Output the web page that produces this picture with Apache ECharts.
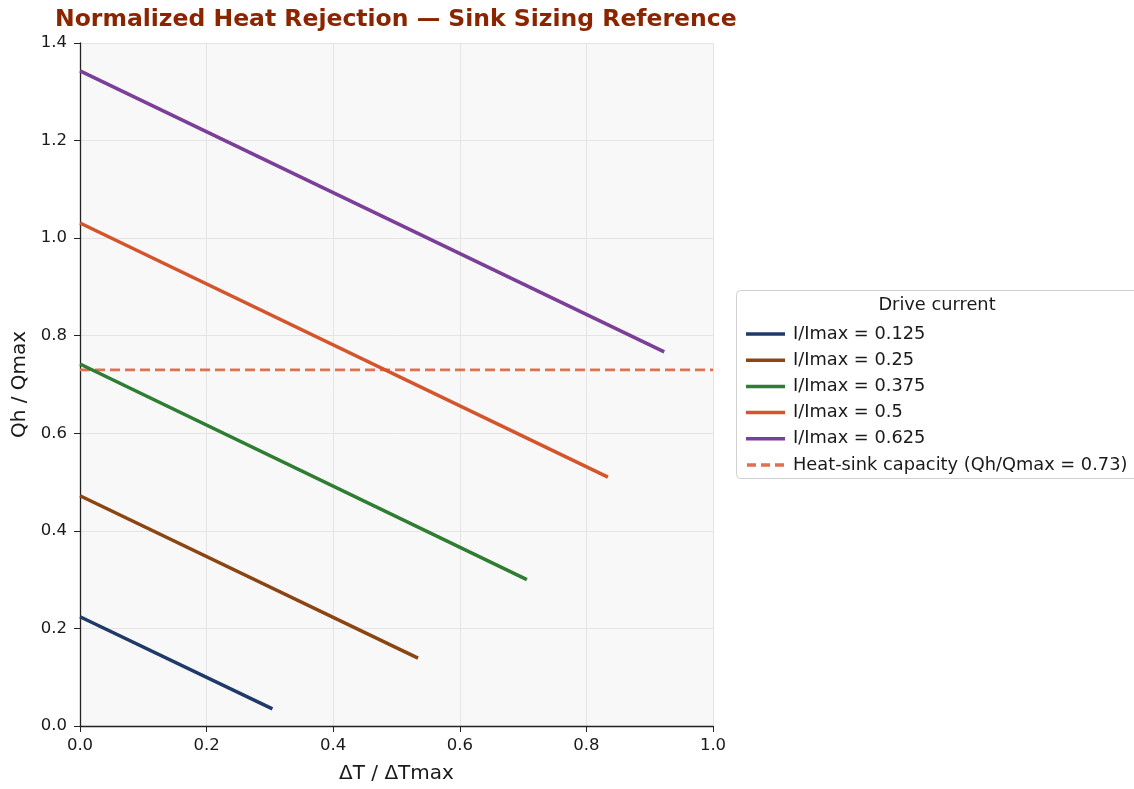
<!DOCTYPE html>
<html>
<head>
<meta charset="utf-8">
<script src="https://cdn.jsdelivr.net/npm/echarts@6/dist/echarts.min.js"></script>
<style>
  html, body { margin: 0; padding: 0; background: #fff; }
  #chart { width: 1134px; height: 789px; }
</style>
</head>
<body>
<div id="chart"></div>
<script>
// drive-current curves, [dT/dTmax, Qh/Qmax] end points
var seriesNames = ['I/Imax = 0.125', 'I/Imax = 0.25', 'I/Imax = 0.375', 'I/Imax = 0.5', 'I/Imax = 0.625'];
var seriesColors = ['#1f3a68', '#8b4513', '#2e7d32', '#d4552b', '#7b3f98'];
var curve0125 = [[0, 0.224], [0.304, 0.035]];
var curve025 = [[0, 0.472], [0.534, 0.139]];
var curve0375 = [[0, 0.742], [0.706, 0.300]];
var curve05 = [[0, 1.031], [0.834, 0.510]];
var curve0625 = [[0, 1.343], [0.923, 0.767]];
var sinkCapacity = 0.73;
var sinkName = 'Heat-sink capacity (Qh/Qmax = 0.73)';
var xTicks = [0, 0.2, 0.4, 0.6, 0.8, 1.0];
var yTicks = [0, 0.2, 0.4, 0.6, 0.8, 1.0, 1.2, 1.4];

var FONT = 'DejaVu Sans';
var curves = [curve0125, curve025, curve0375, curve05, curve0625];
var SOLID_ICON = 'path://M0,0h39v3.5h-39z';
var DASH_ICON = 'path://M0,0h9v3.5h-9z M14,0h9v3.5h-9z M28,0h9v3.5h-9z';

var series = curves.map(function (d, i) {
    return {
        name: seriesNames[i],
        type: 'line',
        data: d,
        symbol: 'none',
        lineStyle: { color: seriesColors[i], width: 3.5 },
        itemStyle: { color: seriesColors[i] },
        z: 3
    };
});
series.push({
    name: sinkName,
    type: 'line',
    data: [[xTicks[0], sinkCapacity], [xTicks[xTicks.length - 1], sinkCapacity]],
    symbol: 'none',
    lineStyle: { color: '#e07050', width: 2.8, type: [10, 5] },
    itemStyle: { color: '#e07050' },
    z: 2
});

var legendData = seriesNames.map(function (n) {
    return { name: n, icon: SOLID_ICON };
});
legendData.push({ name: sinkName, icon: DASH_ICON });

var axisLabelFmt = function (v) { return v.toFixed(1); };

var chart = echarts.init(document.getElementById('chart'));
chart.setOption({
    animation: false,
    backgroundColor: '#fff',
    textStyle: { fontFamily: FONT },
    title: {
        text: 'Normalized Heat Rejection \u2014 Sink Sizing Reference',
        left: 55,
        top: 8,
        padding: 0,
        textStyle: { fontFamily: FONT, fontSize: 23.5, fontWeight: 'bold', color: '#8b2500' }
    },
    grid: {
        left: 80, right: 421, top: 43, bottom: 62,
        show: true, backgroundColor: '#f8f8f8', borderWidth: 0
    },
    legend: {
        orient: 'vertical',
        left: 741,
        top: 316,
        itemWidth: 39,
        itemHeight: 3.5,
        itemGap: 0.2,
        data: legendData,
        textStyle: { fontFamily: FONT, fontSize: 17.8, lineHeight: 26, color: '#1a1a1a', padding: [0, 0, 0, 3] }
    },
    graphic: [
        {
            type: 'rect',
            shape: { x: 736.5, y: 290.5, width: 420, height: 188, r: 4 },
            style: { fill: '#fff', stroke: '#d0d0d0', lineWidth: 1 },
            z: -1
        },
        {
            type: 'text',
            x: 937, y: 305,
            style: { text: 'Drive current', fontFamily: FONT, fontSize: 17.8, fill: '#1a1a1a', textAlign: 'center', textVerticalAlign: 'middle' }
        }
    ],
    xAxis: {
        type: 'value',
        min: 0, max: 1, interval: 0.2,
        name: '\u0394T / \u0394Tmax',
        nameLocation: 'middle',
        nameGap: 38,
        nameTextStyle: { fontFamily: FONT, fontSize: 20, color: '#1a1a1a' },
        axisLine: { lineStyle: { color: '#222', width: 1.3 } },
        axisTick: { show: true, length: 6, lineStyle: { color: '#222' } },
        axisLabel: { fontFamily: FONT, fontSize: 16.5, color: '#1a1a1a', margin: 11, formatter: axisLabelFmt },
        splitLine: { show: true, lineStyle: { color: '#e4e4e4', width: 1 } }
    },
    yAxis: {
        type: 'value',
        min: 0, max: 1.4, interval: 0.2,
        name: 'Qh / Qmax',
        nameLocation: 'middle',
        nameGap: 50,
        nameTextStyle: { fontFamily: FONT, fontSize: 20, color: '#1a1a1a' },
        axisLine: { show: true, lineStyle: { color: '#222', width: 1.3 } },
        axisTick: { show: true, length: 6, lineStyle: { color: '#222' } },
        axisLabel: { fontFamily: FONT, fontSize: 16.5, color: '#1a1a1a', margin: 13, formatter: axisLabelFmt },
        splitLine: { show: true, lineStyle: { color: '#e4e4e4', width: 1 } }
    },
    series: series
});
</script>
</body>
</html>
